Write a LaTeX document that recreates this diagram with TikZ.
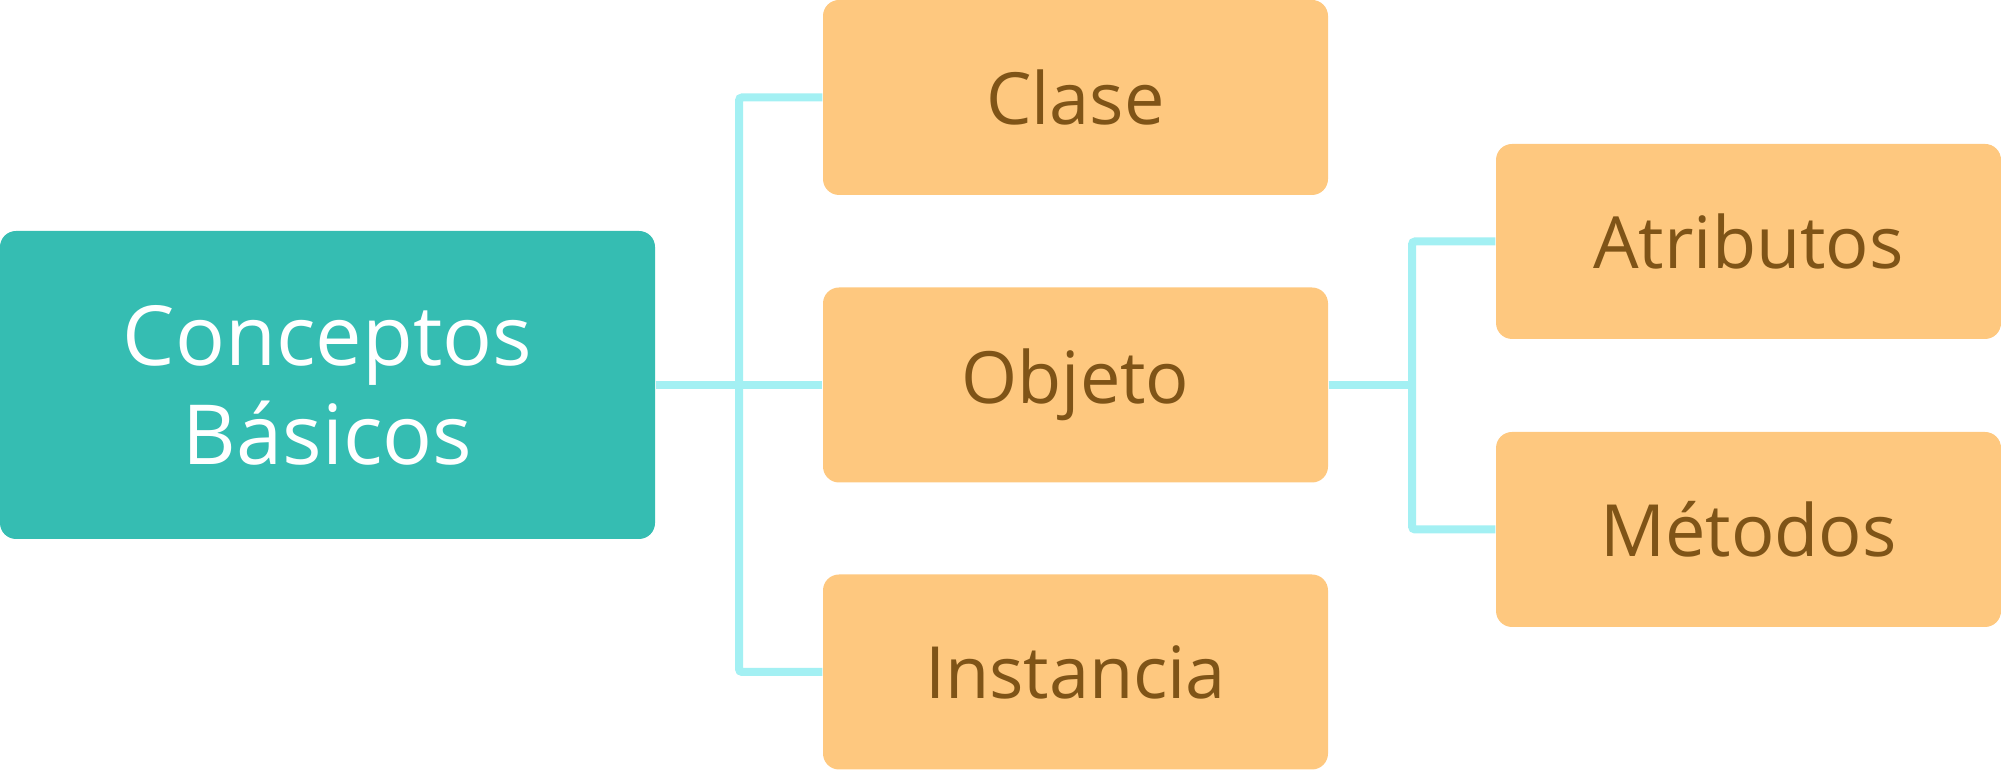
\documentclass[tikz,border=0pt]{standalone}
\usepackage{fontspec}
\setmainfont{Open Sans}
\definecolor{teal1}{HTML}{35BDB2}
\definecolor{peach}{HTML}{FEC87F}
\definecolor{brown1}{HTML}{7F5417}
\definecolor{cyanline}{HTML}{A3F0F3}
\begin{document}
\begin{tikzpicture}[
    rootbox/.style={fill=teal1, rounded corners=0.16cm, minimum width=6.55cm, minimum height=3.08cm,
      inner sep=0pt, align=center, text=white, font=\fontsize{23.6}{28.2}\selectfont},
    leafbox/.style={fill=peach, rounded corners=0.16cm, minimum width=5.05cm, minimum height=1.95cm,
      inner sep=0pt, text=brown1, font=\fontsize{20.5}{24}\selectfont},
    link/.style={draw=cyanline, line width=0.08cm, rounded corners=0.03cm}
  ]
  \useasboundingbox (0,0) rectangle (20.01,7.75);
  \node [rootbox] (root) at (3.275, 3.90) {Conceptos\\Básicos};
  \node [leafbox] (clase) at (10.755, 6.775) {Clase};
  \node [leafbox] (objeto) at (10.755, 3.90) {Objeto};
  \node [leafbox] (instancia) at (10.755, 1.03) {Instancia};
  \node [leafbox] (atributos) at (17.485, 5.335) {Atributos};
  \node [leafbox] (metodos) at (17.485, 2.455) {Métodos};
  \coordinate (fork1) at (7.39, 3.90);
  \coordinate (fork2) at (14.12, 3.90);
  \draw [link] (root.east) -- (objeto.west);
  \draw [link] (clase.west) -| (fork1) |- (instancia.west);
  \draw [link] (objeto.east) -- (fork2);
  \draw [link] (atributos.west) -| (fork2) |- (metodos.west);
\end{tikzpicture}
\end{document}
